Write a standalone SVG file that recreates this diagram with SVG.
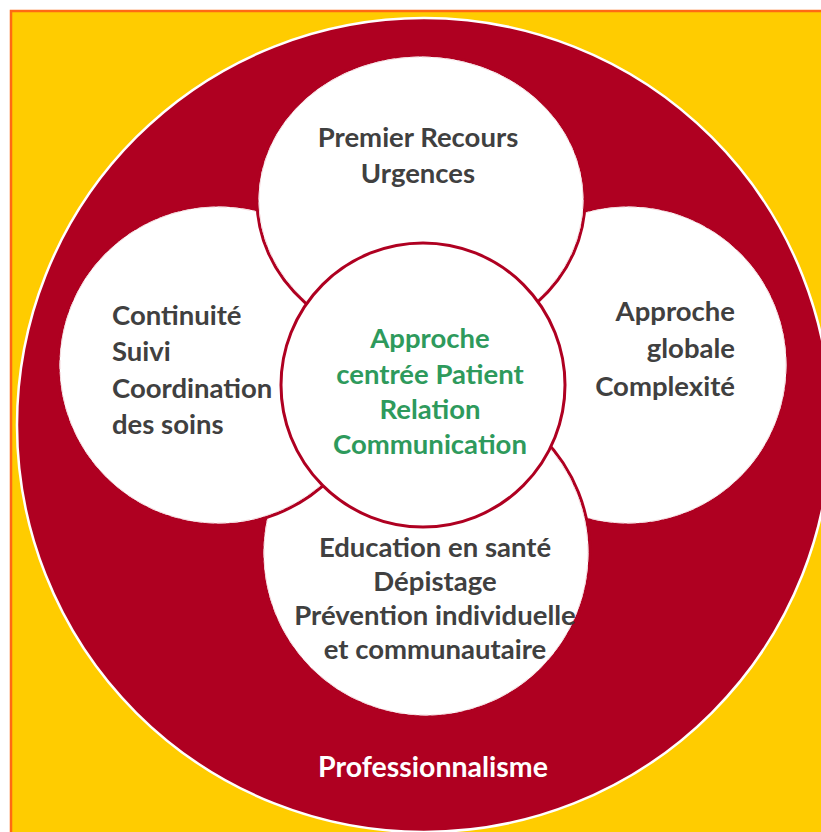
<svg xmlns="http://www.w3.org/2000/svg" width="821" height="832" viewBox="0 0 821 832">
<style>
.t{font-family:Lato,"Open Sans","Liberation Sans",sans-serif;font-weight:bold;font-size:27.5px;fill:#404040}
.g{fill:#2E9A5C}
.w{fill:#ffffff;font-size:28.5px}
.petal{fill:#ffffff;stroke:#AF0021;stroke-width:3}
.dash{fill:none;stroke:#f3d6da;stroke-width:1;stroke-dasharray:9 3}
</style>
<rect x="0" y="0" width="821" height="832" fill="#ffffff"/>
<rect x="11" y="11" width="830" height="840" fill="#FFCC00" stroke="#FF6A13" stroke-width="2.5"/>
<g id="outer">
<circle cx="424" cy="425" r="407" fill="#AF0021" stroke="#ffffff" stroke-width="2.5"/>
<text class="t w" x="433" y="777" text-anchor="middle">Professionnalisme</text>
</g>
<g id="connectors"></g>
<g id="right">
<circle class="petal" cx="628" cy="365" r="160"/>
<circle class="dash" cx="628" cy="365" r="158"/>
<text class="t" text-anchor="end"><tspan x="735" y="321">Approche</tspan><tspan x="735" y="358">globale</tspan><tspan x="735" y="396">Complexité</tspan></text>
</g>
<g id="bottom">
<circle class="petal" cx="426" cy="553" r="164"/>
<circle class="dash" cx="426" cy="553" r="162"/>
<text class="t" text-anchor="middle"><tspan x="435" y="557">Education en santé</tspan><tspan x="435" y="591">Dépistage</tspan><tspan x="435" y="625">Prévention individuelle</tspan><tspan x="435" y="659">et communautaire</tspan></text>
</g>
<g id="left">
<circle class="petal" cx="218" cy="365" r="160"/>
<circle class="dash" cx="218" cy="365" r="158"/>
<text class="t"><tspan x="112" y="325">Continuité</tspan><tspan x="112" y="361">Suivi</tspan><tspan x="112" y="398">Coordination</tspan><tspan x="112" y="434">des soins</tspan></text>
</g>
<g id="top">
<ellipse class="petal" cx="421" cy="200" rx="164" ry="145"/>
<ellipse class="dash" cx="421" cy="200" rx="162" ry="143"/>
<text class="t" text-anchor="middle"><tspan x="418" y="147">Premier Recours</tspan><tspan x="418" y="183">Urgences</tspan></text>
</g>
<g id="center">
<circle class="petal" cx="423" cy="385" r="142"/>
<text class="t g" text-anchor="middle"><tspan x="430" y="348">Approche</tspan><tspan x="430" y="384">centrée Patient</tspan><tspan x="430" y="419">Relation</tspan><tspan x="430" y="454">Communication</tspan></text>
</g>
</svg>
